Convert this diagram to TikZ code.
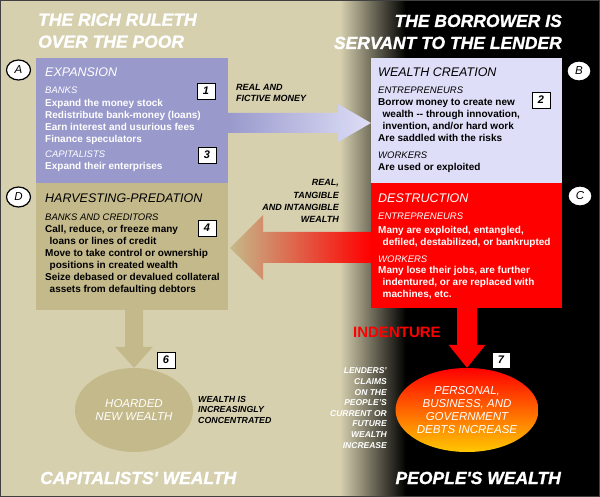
\documentclass[tikz,border=0pt]{standalone}
\usepackage{fontspec}
\setmainfont{Liberation Sans}
\newfontfamily\heavyfont{Liberation Sans}[BoldItalicFeatures={FakeBold=1.2}]
\usetikzlibrary{positioning,calc,shapes.geometric}
\definecolor{tanbg}{HTML}{D6D0AF}
\definecolor{tandark}{HTML}{C4B98A}
\definecolor{expblue}{HTML}{9999CC}
\definecolor{creatblue}{HTML}{DEDEF8}
\definecolor{debtgold}{HTML}{FFC800}

\begin{document}
\begin{tikzpicture}[x=1pt,y=-1pt,
  stage/.style={anchor=north west,minimum width=192pt,inner sep=0pt,outer sep=0pt},
  bigtitle/.style={white,inner sep=0pt,font=\heavyfont\fontsize{17.5}{22}\selectfont\bfseries\itshape},
  headline/.style={anchor=base west,inner sep=0pt,font=\fontsize{12.5}{14}\selectfont\itshape},
  who/.style={anchor=base west,inner sep=0pt,font=\fontsize{9.5}{12}\selectfont\itshape},
  bodytext/.style={anchor=north west,align=left,inner sep=0pt,font=\fontsize{10}{12}\selectfont\bfseries},
  remark/.style={inner sep=0pt,font=\fontsize{8.5}{10.6}\selectfont\bfseries\itshape},
  numbox/.style={draw=black,fill=white,line width=0.8pt,minimum width=18pt,minimum height=16pt,inner sep=0pt,font=\fontsize{11}{11}\selectfont\bfseries\itshape},
  tag/.style={ellipse,draw=black,fill=white,line width=1.2pt,minimum width=24pt,minimum height=20pt,inner sep=0pt,font=\fontsize{11.5}{11}\selectfont\itshape},
  pool/.style={ellipse,inner sep=0pt,align=center,white,font=\fontsize{11.5}{13.3}\selectfont\itshape}]
  \useasboundingbox (0,0) rectangle (600,497);
  % background, tan on the left, black on the right
  \fill[tanbg] (0,0) rectangle (340,497);
  \shade[left color=tanbg,right color=black] (340,0) rectangle (406,497);
  \fill[black] (406,0) rectangle (600,497);
  \draw[line width=1pt,black!75] (0.5,0.5) rectangle (599.5,496.5);

  % the four stages
  \node[stage,fill=expblue,minimum height=125pt] (boxA) at (36,58) {};
  \node[stage,fill=tandark,minimum height=127pt] (boxD) at (36,183) {};
  \node[stage,fill=creatblue,minimum width=191pt,minimum height=125pt] (boxB) at (371,58) {};
  \node[stage,fill=red,minimum width=191pt,minimum height=125pt] (boxC) at (371,183) {};

  \node[pool,fill=tandark,minimum width=118pt,minimum height=84pt] (hoard) at (134,410) {HOARDED\\NEW WEALTH};
  \node[pool,top color=red,bottom color=debtgold,middle color=orange!80!red,minimum width=143pt,minimum height=84pt] (debts) at (467,410) {PERSONAL,\\BUSINESS, AND\\GOVERNMENT\\DEBTS INCREASE};

  % block arrows
  \shade[left color=expblue,right color=creatblue] ($(boxA.east)+(0,-7.5)$) -- ($(boxB.west)+(-33,-7.5)$)
     -- ($(boxB.west)+(-33,-16.5)$) -- ($(boxB.west)+(0,2.5)$) -- ($(boxB.west)+(-33,21.5)$)
     -- ($(boxB.west)+(-33,12.5)$) -- ($(boxA.east)+(0,12.5)$) -- cycle;
  \shade[left color=tandark,right color=red] ($(boxC.west)+(0,-13.5)$) -- ($(boxD.east)+(35,-14.5)$)
     -- ($(boxD.east)+(35,-31.5)$) -- ($(boxD.east)+(2,1.5)$) -- ($(boxD.east)+(35,33.5)$)
     -- ($(boxD.east)+(35,16.5)$) -- ($(boxC.west)+(0,17.5)$) -- cycle;
  \fill[tandark] ($(boxD.south)+(-7,0)$) -- ($(hoard.north)+(-9,-21)$) -- ($(hoard.north)+(-19,-21)$)
     -- (hoard.north) -- ($(hoard.north)+(19,-21)$) -- ($(hoard.north)+(9,-21)$) -- ($(boxD.south)+(11,0)$) -- cycle;
  \fill[red] ($(boxC.south)+(-9.5,0)$) -- ($(debts.north)+(-10,-23)$) -- ($(debts.north)+(-18.5,-23)$)
     -- (debts.north) -- ($(debts.north)+(18.5,-23)$) -- ($(debts.north)+(10,-23)$) -- ($(boxC.south)+(10.5,0)$) -- cycle;

  % titles
  \node[bigtitle,anchor=north west,align=left] (richT) at (38,13.3) {THE RICH RULETH\\OVER THE POOR};
  \node[bigtitle,anchor=north east,align=right] (lendT) at (562,14.5) {THE BORROWER IS\\SERVANT TO THE LENDER};
  \node[bigtitle,anchor=base west] (capT) at (40,484) {CAPITALISTS' WEALTH};
  \node[bigtitle,anchor=base east] (peopleT) at (561,484) {PEOPLE'S WEALTH};

  % A
  \node[headline,white] (expA) at (45,76.6) {EXPANSION};
  \node[who,white] (banksA) at (45,93.5) {BANKS};
  \node[bodytext,white] (linesA) at (45,98.7) {Expand the money stock\\Redistribute bank-money (loans)\\Earn interest and usurious fees\\Finance speculators};
  \node[who,white] (capA) at (45,157.7) {CAPITALISTS};
  \node[bodytext,white,anchor=base west] (entA) at (45,170) {Expand their enterprises};
  % B
  \node[headline] (creB) at (378,76.6) {WEALTH CREATION};
  \node[who] (entrB) at (378,93.4) {ENTREPRENEURS};
  \node[bodytext] (linesB) at (378,98.7) {Borrow money to create new\\\hspace*{4.5pt}wealth -{}- through innovation,\\\hspace*{4.5pt}invention, and/or hard work\\Are saddled with the risks};
  \node[who] (workB) at (378,158.4) {WORKERS};
  \node[bodytext,anchor=base west] (usedB) at (378,170.3) {Are used or exploited};
  % C
  \node[headline,white] (desC) at (378,202.6) {DESTRUCTION};
  \node[who,white] (entrC) at (378,220) {ENTREPRENEURS};
  \node[bodytext,white] (linesC) at (378,226) {Many are exploited, entangled,\\\hspace*{4.5pt}defiled, destabilized, or bankrupted};
  \node[who,white] (workC) at (378,262.4) {WORKERS};
  \node[bodytext,white] (loseC) at (378,266.2) {Many lose their jobs, are further\\\hspace*{4.5pt}indentured, or are replaced with\\\hspace*{4.5pt}machines, etc.};
  % D
  \node[headline] (harD) at (45,202.6) {HARVESTING-PREDATION};
  \node[who] (credD) at (45,220.7) {BANKS AND CREDITORS};
  \node[bodytext] (linesD) at (45,225.2) {Call, reduce, or freeze many\\\hspace*{4.5pt}loans or lines of credit\\Move to take control or ownership\\\hspace*{4.5pt}positions in created wealth\\Seize debased or devalued collateral\\\hspace*{4.5pt}assets from defaulting debtors};

  % numbers and letters
  \node[numbox] (n1) at (206,91) {1};
  \node[numbox] (n3) at (207,155) {3};
  \node[numbox] (n2) at (541,100) {2};
  \node[numbox] (n4) at (207,228) {4};
  \node[numbox] (n6) at (166,360) {6};
  \node[numbox] (n7) at (501,360) {7};
  \node[tag] (tA) at (18.5,70) {A};
  \node[tag] (tD) at (18.5,197) {D};
  \node[tag] (tB) at (579,71) {B};
  \node[tag] (tC) at (580,196) {C};

  % side remarks
  \node[remark,anchor=north west,align=left,font=\fontsize{9}{11}\selectfont\bfseries\itshape] (moneyL) at (236,84.1) {REAL AND\\FICTIVE MONEY};
  \node[remark,anchor=north east,align=right,font=\fontsize{9}{12.2}\selectfont\bfseries\itshape] (wealthL) at (339,179.5) {REAL,\\TANGIBLE\\AND INTANGIBLE\\WEALTH};
  \node[remark,white,anchor=north east,align=right] (claimsL) at (387,367.7) {LENDERS'\\CLAIMS\\ON THE\\PEOPLE'S\\CURRENT OR\\FUTURE\\WEALTH\\INCREASE};
  \node[remark,anchor=north west,align=left,font=\fontsize{8.8}{10.5}\selectfont\bfseries\itshape] (concL) at (198,396) {WEALTH IS\\INCREASINGLY\\CONCENTRATED};
  \node[anchor=base west,inner sep=0pt,red,font=\fontsize{15}{15}\selectfont\bfseries] (indL) at (353,337.5) {INDENTURE};
\end{tikzpicture}
\end{document}
